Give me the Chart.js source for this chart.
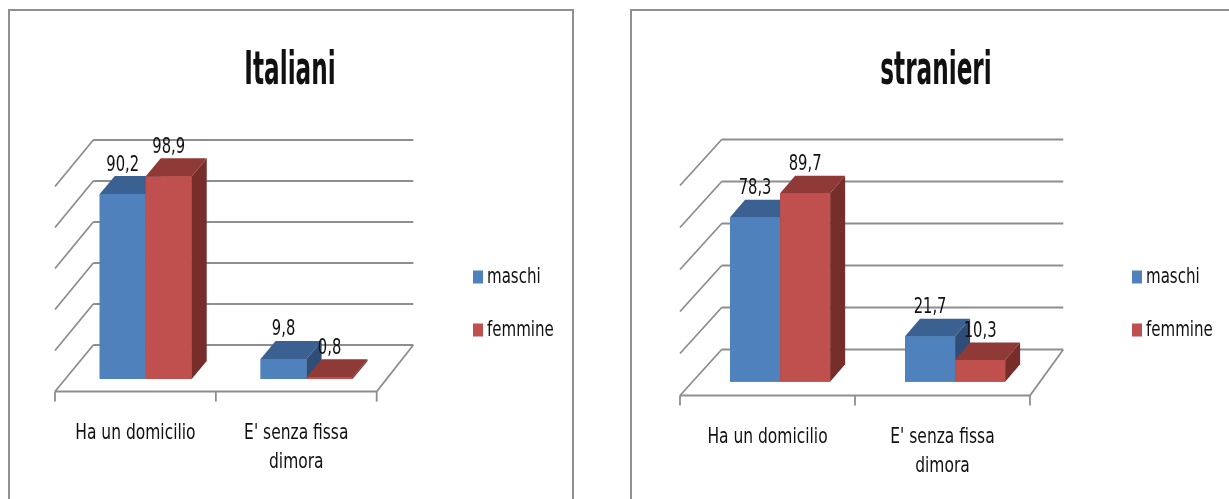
<!DOCTYPE html>
<html>
<head>
<meta charset="utf-8">
<script src="https://cdn.jsdelivr.net/npm/chart.js@4.4.1/dist/chart.umd.min.js"></script>
<style>
  body { margin: 0; background: #fff; width: 1229px; height: 499px; overflow: hidden; position: relative; }
  .box { position: absolute; border: 2px solid #8f8f8f; border-bottom: none; background: #fff; }
  #box1 { left: 8px; top: 9px; width: 562px; height: 500px; }
  #box2 { left: 630px; top: 9px; width: 620px; height: 500px; }
  canvas { display: block; }
</style>
</head>
<body>
<div class="box" id="box1"><canvas id="cIta" width="562" height="488"></canvas></div>
<div class="box" id="box2"><canvas id="cStr" width="597" height="488"></canvas></div>
<script>
// categories and series
var categories = [['Ha un domicilio'], ["E' senza fissa", 'dimora']];
var seriesNames = ['maschi', 'femmine'];
var italianiMaschi = [90.2, 9.8];
var italianiFemmine = [98.9, 0.8];
var stranieriMaschi = [78.3, 21.7];
var stranieriFemmine = [89.7, 10.3];
var gridTicks = [0, 20, 40, 60, 80, 100];

var FONT = "'Liberation Sans Narrow', 'DejaVu Sans Condensed', 'Open Sans', sans-serif";
var BLUE = { front: '#4f81bd', top: '#3b6192', side: '#2e4e78' };
var RED = { front: '#c0504d', top: '#8f3a37', side: '#772e2b' };
var GRID = '#8e8e8e';

// text is squeezed horizontally (sx) to get the narrow look
function txt(ctx, s, x, y, size, bold, align, sx) {
  ctx.save();
  ctx.font = (bold ? 'bold ' : '') + size + 'px ' + FONT;
  ctx.fillStyle = '#111';
  ctx.textAlign = align || 'center';
  ctx.textBaseline = 'middle';
  ctx.translate(x, y);
  ctx.scale(sx || 0.8, 1);
  ctx.fillText(s, 0, 0);
  ctx.restore();
}

function poly(ctx, pts, color) {
  ctx.beginPath();
  ctx.moveTo(pts[0][0], pts[0][1]);
  for (var i = 1; i < pts.length; i++) ctx.lineTo(pts[i][0], pts[i][1]);
  ctx.closePath();
  ctx.fillStyle = color;
  ctx.fill();
}

// draws the pseudo-3D walls, bar depth faces, labels, title and legend
var excel3d = {
  id: 'excel3d',
  beforeDatasetsDraw: function(chart, args, o) {
    var ctx = chart.ctx, a = chart.chartArea, y = chart.scales.y;
    ctx.save();
    ctx.strokeStyle = GRID;
    ctx.lineWidth = 1.8;
    ctx.beginPath();
    gridTicks.forEach(function(v) {
      var py = y.getPixelForValue(v);
      // back wall line
      ctx.moveTo(a.left + o.wall.dxL, py + o.wall.dy);
      ctx.lineTo(a.right + o.wall.dxR, py + o.wall.dy);
      // side wall line
      ctx.moveTo(a.left + o.wall.dxL, py + o.wall.dy);
      ctx.lineTo(a.left, py);
    });
    // floor front and right edge
    ctx.moveTo(a.left, a.bottom);
    ctx.lineTo(a.right, a.bottom);
    ctx.lineTo(a.right + o.wall.dxR, a.bottom + o.wall.dy);
    // category ticks
    var n = categories.length;
    for (var i = 0; i <= n; i++) {
      var tx = a.left + (a.right - a.left) * i / n;
      ctx.moveTo(tx, a.bottom);
      ctx.lineTo(tx, a.bottom + 10);
    }
    ctx.stroke();
    ctx.restore();

    ctx.save();
    ctx.translate(o.shift[0], o.shift[1]);
  },
  afterDatasetsDraw: function(chart, args, o) {
    var ctx = chart.ctx, a = chart.chartArea;
    var dx = o.depth[0], dy = o.depth[1];
    // redraw the bars back to front with their top and side faces
    for (var c = 0; c < categories.length; c++) {
      chart.data.datasets.forEach(function(ds, di) {
        var el = chart.getDatasetMeta(di).data[c];
        var p = el.getProps(['x', 'y', 'base', 'width'], true);
        var l = p.x - p.width / 2, r = p.x + p.width / 2;
        el.draw(ctx);
        poly(ctx, [[l, p.y], [r, p.y], [r + dx, p.y + dy], [l + dx, p.y + dy]], ds.topColor);
        poly(ctx, [[r, p.y], [r + dx, p.y + dy], [r + dx, p.base + dy], [r, p.base]], ds.sideColor);
      });
    }
    // value labels
    chart.data.datasets.forEach(function(ds, di) {
      chart.getDatasetMeta(di).data.forEach(function(el, i) {
        var lab = ds.data[i].toFixed(1).replace('.', ',');
        txt(ctx, lab, el.x, el.y - 29, 21, false, 'center', 0.78);
      });
    });
    ctx.restore();

    // category labels
    var xs = chart.scales.x;
    categories.forEach(function(lines, i) {
      lines.forEach(function(line, k) {
        txt(ctx, line, xs.getPixelForValue(i), a.bottom + 42 + k * 29, 21, false, 'center', 0.82);
      });
    });
    // title
    txt(ctx, o.title, o.titleX, 61, 46, true, 'center', 0.56);
    // legend
    chart.data.datasets.forEach(function(ds, di) {
      var ly = 266 + di * 53;
      ctx.fillStyle = ds.backgroundColor;
      ctx.fillRect(o.legendX, ly - 6.5, 10, 13);
      txt(ctx, ds.label, o.legendX + 14, ly, 22, false, 'left', 0.76);
    });
  }
};

function makeChart(id, maschi, femmine, pad, extra) {
  return new Chart(document.getElementById(id), {
    type: 'bar',
    data: {
      labels: categories,
      datasets: [
        { label: seriesNames[0], data: maschi, backgroundColor: BLUE.front, topColor: BLUE.top, sideColor: BLUE.side, borderWidth: 0, clip: false },
        { label: seriesNames[1], data: femmine, backgroundColor: RED.front, topColor: RED.top, sideColor: RED.side, borderWidth: 0, clip: false }
      ]
    },
    options: {
      responsive: false,
      animation: false,
      events: [],
      layout: { padding: pad },
      datasets: { bar: { categoryPercentage: 0.572, barPercentage: 1 } },
      scales: {
        x: { display: false },
        y: { display: false, min: 0, max: 100 }
      },
      plugins: {
        legend: { display: false },
        tooltip: { enabled: false },
        excel3d: extra
      }
    },
    plugins: [excel3d]
  });
}

makeChart('cIta', italianiMaschi, italianiFemmine,
  { left: 45, right: 195.3, top: 175.5, bottom: 107.5 },
  { title: 'Italiani', titleX: 280, legendX: 463, shift: [10.3, -12.5], depth: [15, -18],
    wall: { dxL: 38.3, dxR: 36.6, dy: -46.5 } });

makeChart('cStr', stranieriMaschi, stranieriFemmine,
  { left: 48, right: 199, top: 174.5, bottom: 103.5 },
  { title: 'stranieri', titleX: 304, legendX: 500, shift: [12.6, -13.8], depth: [15, -17.5],
    wall: { dxL: 41.7, dxR: 33.3, dy: -46 } });
</script>
</body>
</html>
